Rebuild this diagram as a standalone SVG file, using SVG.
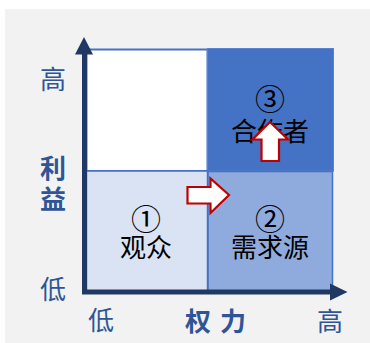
<svg xmlns="http://www.w3.org/2000/svg" width="370" height="343" viewBox="0 0 370 343">
<style>
.lbl{font-family:"Noto Sans CJK SC","Noto Sans",sans-serif;font-size:26px;fill:#000;text-anchor:middle}
.num{font-size:30px}
.ax{font-family:"Noto Sans CJK SC","Noto Sans",sans-serif;font-size:26px;fill:#2f5597;text-anchor:middle}
.axb{font-weight:bold}
.blk{fill:#fff;stroke:#c00000;stroke-width:2.2;stroke-linejoin:miter}
</style>
<rect x="0" y="0" width="370" height="343" fill="#fff"/>
<rect x="5" y="9" width="365" height="334" fill="#f2f2f2"/>
<g id="q-tl"><rect x="86.5" y="49.5" width="121" height="121.5" fill="#fff" stroke="#4472c4" stroke-width="2"/></g>
<g id="q-tr"><rect x="207.5" y="48.5" width="126" height="122.5" fill="#4472c4" stroke="#5a82ca" stroke-width="1"/>
<text class="lbl num" x="270" y="110">③</text><text class="lbl" x="270" y="141">合作者</text></g>
<g id="q-bl"><rect x="86.5" y="171" width="121" height="120" fill="#dae3f3" stroke="#4472c4" stroke-width="1.5"/>
<text class="lbl num" x="146" y="230">①</text><text class="lbl" x="146" y="257">观众</text></g>
<g id="q-br"><rect x="208" y="171.5" width="124.5" height="119.5" fill="#8faadc" stroke="#4472c4" stroke-width="1.5"/>
<text class="lbl num" x="270" y="230">②</text><text class="lbl" x="270" y="257">需求源</text></g>
<g id="connectors">
<path class="blk" d="M187.5,187 H210.5 V178.5 L229,195 L210.5,213 V203.5 H187.5 Z"/>
<path class="blk" d="M270,122 L288,139.5 H279 V161 H261.5 V139.5 H252.5 Z"/>
</g>
<g id="axes">
<path d="M84.5,54 V294.5 M82,292 H331" stroke="#203864" stroke-width="5" fill="none"/>
<polygon points="75,54.5 84,37 93,54.5" fill="#203864"/>
<polygon points="330,283.5 347.5,292 330,300.5" fill="#203864"/>
</g>
<g id="labels">
<text class="ax" x="53" y="89">高</text>
<text class="ax axb" x="53" y="178">利</text>
<text class="ax axb" x="53" y="209">益</text>
<text class="ax" x="53" y="299">低</text>
<text class="ax" x="101" y="330">低</text>
<text class="ax axb" x="185" y="331" style="text-anchor:start;letter-spacing:9px">权力</text>
<text class="ax" x="330" y="331">高</text>
</g>
</svg>
